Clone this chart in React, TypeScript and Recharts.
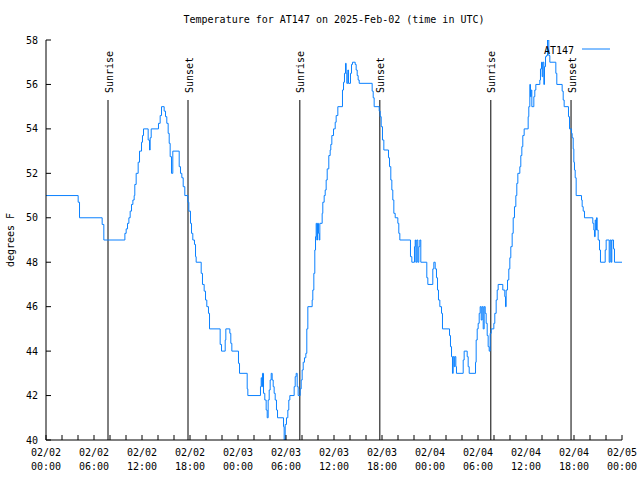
import React from "react";
import {
  LineChart,
  Line,
  XAxis,
  YAxis,
  ReferenceLine,
  Legend,
  Customized,
} from "recharts";

// hours since 02/02 00:00 UTC where the reading changes, and the reading from then on
const changeHours = [
  0, 4.02, 4.19, 7.02, 7.23, 9.86, 10.02, 10.19, 10.36, 10.52, 10.69, 10.86, 11.02, 11.1, 11.27,
  11.52, 11.69, 11.94, 12.06, 12.19, 12.77, 12.94, 13.02, 13.15, 14.06, 14.27, 14.44, 14.77, 14.94,
  15.1, 15.27, 15.4, 15.52, 15.69, 15.85, 16.65, 16.81, 16.98, 17.15, 17.35, 17.73, 17.85, 18.06,
  18.19, 18.35, 18.56, 18.69, 18.77, 19.4, 19.56, 19.77, 19.94, 20.1, 20.31, 20.44, 21.77, 21.94,
  22.4, 22.48, 22.98, 23.1, 23.23, 24.06, 24.19, 25.15, 25.23, 26.81, 26.9, 26.98, 27.06, 27.19,
  27.35, 27.52, 27.65, 27.77, 27.9, 28.02, 28.15, 28.27, 28.4, 28.52, 28.65, 28.81, 28.94, 29.69,
  29.77, 29.9, 30.06, 30.23, 30.35, 30.48, 31.02, 31.15, 31.27, 31.4, 31.52, 31.77, 31.9, 32.02,
  32.15, 32.31, 32.48, 32.6, 32.73, 33.27, 33.35, 33.48, 33.6, 33.69, 33.77, 33.85, 33.94, 34.06,
  34.15, 34.23, 34.52, 34.6, 34.77, 34.9, 35.02, 35.15, 35.35, 35.52, 35.6, 35.73, 35.94, 36.15,
  36.27, 36.48, 37.06, 37.19, 37.31, 37.44, 37.52, 37.6, 37.73, 37.81, 38.06, 38.19, 38.31, 38.65,
  38.77, 38.9, 39.02, 39.15, 40.77, 40.9, 41.02, 41.65, 41.77, 41.9, 42.06, 42.23, 42.81, 42.94,
  43.1, 43.23, 43.35, 43.48, 43.65, 43.98, 44.1, 44.23, 45.56, 45.73, 46.06, 46.15, 46.23, 46.35,
  46.48, 46.6, 46.73, 46.85, 47.6, 47.73, 48.35, 48.48, 48.65, 48.81, 48.94, 49.06, 49.23, 49.44,
  49.56, 50.44, 50.56, 50.69, 50.81, 50.9, 51.02, 51.1, 51.23, 51.31, 52.15, 52.27, 52.65, 52.77,
  52.9, 53.69, 53.77, 53.9, 54.02, 54.15, 54.27, 54.4, 54.52, 54.65, 54.77, 54.9, 55.02, 55.15,
  55.27, 55.4, 55.52, 55.65, 55.98, 56.1, 56.27, 56.4, 56.52, 57.1, 57.35, 57.44, 57.52, 57.69,
  57.85, 57.98, 58.1, 58.27, 58.4, 58.56, 58.73, 58.85, 58.98, 59.23, 59.35, 59.48, 59.6, 59.77,
  60.27, 60.35, 60.48, 60.56, 60.65, 60.73, 60.98, 61.1, 61.23, 61.73, 61.81, 61.94, 62.02, 62.1,
  62.23, 62.31, 62.44, 62.56, 62.69, 62.85, 62.98, 63.73, 63.85, 64.52, 64.65, 64.77, 65.31, 65.44,
  65.69, 65.77, 65.9, 65.98, 66.06, 66.15, 66.27, 66.94, 67.02, 67.15, 67.31, 68.35, 68.48, 68.56,
  68.65, 68.73, 68.81, 68.9, 69.02, 69.19, 69.31, 69.9, 70.02, 70.4, 70.52, 70.65, 70.73, 70.94,
  71.06, 72,
];

const tempsF = [
  51.0, 50.7, 50.0, 49.7, 49.0, 49.3, 49.5, 49.75, 50.0, 50.3, 50.6, 50.8, 51.0, 51.5, 52.0,
  52.5, 53.0, 53.4, 53.7, 54.0, 53.5, 53.05, 53.6, 54.0, 54.25, 54.6, 55.0, 54.8, 54.55,
  54.25, 53.8, 53.35, 52.75, 52.0, 53.0, 52.3, 52.0, 51.8, 51.4, 51.0, 50.7, 50.3, 49.75,
  49.3, 49.0, 48.8, 48.25, 48.0, 47.5, 47.0, 46.7, 46.3, 46.0, 45.7, 45.0, 44.3, 44.0,
  44.5, 45.0, 44.8, 44.35, 44.0, 43.45, 43.0, 42.3, 42.0, 42.4, 42.8, 42.4, 43.0, 42.1,
  41.8, 41.35, 41.0, 41.8, 42.25, 42.7, 43.0, 42.7, 42.4, 42.1, 41.8, 41.35, 41.0, 40.6,
  40.0, 40.7, 41.0, 41.35, 41.8, 42.0, 42.4, 42.85, 43.0, 42.4, 42.0, 42.3, 42.7, 43.15,
  43.5, 43.7, 43.9, 45.0, 46.0, 46.3, 46.75, 47.5, 48.55, 49.15, 49.75, 49.0, 49.75, 49.3,
  49.0, 49.75, 50.2, 50.7, 51.0, 51.25, 51.7, 52.2, 52.8, 53.05, 53.3, 53.7, 54.0, 54.3,
  54.6, 55.0, 55.75, 56.1, 56.5, 56.95, 56.5, 56.05, 56.65, 56.05, 56.5, 56.9, 57.0, 56.9,
  56.65, 56.4, 56.2, 56.05, 55.7, 55.4, 55.0, 54.8, 54.55, 54.1, 53.5, 53.05, 52.7, 52.3,
  51.7, 51.25, 50.8, 50.2, 50.0, 49.75, 49.3, 49.0, 48.25, 48.0, 48.7, 49.0, 48.0, 49.0,
  48.0, 48.7, 49.0, 48.0, 47.3, 47.0, 47.7, 48.0, 47.7, 47.3, 46.75, 46.3, 46.0, 45.7,
  45.0, 44.7, 44.2, 43.75, 43.0, 43.75, 43.3, 43.75, 43.3, 43.0, 43.6, 44.0, 43.75, 43.3,
  43.0, 43.5, 44.5, 45.0, 45.25, 45.7, 46.0, 45.4, 46.0, 45.0, 46.0, 45.7, 45.25, 44.7,
  44.2, 44.0, 44.8, 45.0, 45.25, 45.7, 46.3, 46.75, 47.0, 46.75, 46.45, 46.0, 46.75, 47.2,
  47.7, 48.2, 48.7, 49.3, 50.0, 50.5, 51.0, 51.55, 52.0, 52.3, 52.8, 53.2, 53.7, 54.0,
  54.55, 55.0, 56.0, 55.45, 55.75, 55.0, 55.45, 55.75, 56.0, 56.2, 56.7, 57.0, 56.35, 57.0,
  56.0, 56.8, 57.25, 57.3, 58.0, 57.3, 57.0, 56.5, 56.0, 55.7, 55.3, 55.0, 54.55, 54.0,
  53.8, 53.6, 53.1, 52.5, 52.15, 51.8, 51.0, 50.8, 50.5, 50.3, 50.0, 49.75, 49.45, 49.15,
  49.9, 49.45, 50.0, 49.45, 49.0, 48.55, 48.0, 48.55, 49.0, 48.0, 49.0, 48.0, 49.0, 48.6,
  48.0, 48.0,
];

const sunriseHours = [7.75, 31.73, 55.6];
const sunsetHours = [17.75, 41.73, 65.63];
const sunLineTop = 55.3;

const xTicks = [
  0, 2, 4, 6, 8, 10, 12, 14, 16, 18, 20, 22, 24, 26, 28, 30, 32, 34, 36, 38, 40, 42, 44, 46, 48,
  50, 52, 54, 56, 58, 60, 62, 64, 66, 68, 70, 72,
];
const yTicks = [40, 42, 44, 46, 48, 50, 52, 54, 56, 58];

const data = changeHours.map((h, i) => ({ h, temp: tempsF[i] }));

const FONT = "'DejaVu Sans Mono', monospace";
const BLUE = "#0a80ff";

const pad = (n: number) => (n < 10 ? `0${n}` : `${n}`);

function TimeTick({ x, y, payload }: any) {
  const h = payload.value as number;
  if (h % 6 !== 0) return null;
  const day = 2 + Math.floor(h / 24);
  return (
    <g>
      <text x={x} y={y + 16} textAnchor="middle" fontSize={10} fontFamily={FONT} fill="#000">
        {`02/${pad(day)}`}
      </text>
      <text x={x} y={y + 30} textAnchor="middle" fontSize={10} fontFamily={FONT} fill="#000">
        {`${pad(h % 24)}:00`}
      </text>
    </g>
  );
}

function sunLabel(text: string) {
  return (props: any) => {
    const vb = props.viewBox || {};
    const cx = (vb.x || 0) + (vb.width || 0) / 2;
    const tx = cx + 4.5;
    const ty = (vb.y || 0) - 7;
    return (
      <text
        x={tx}
        y={ty}
        transform={`rotate(-90 ${tx} ${ty})`}
        textAnchor="start"
        fontSize={10}
        fontFamily={FONT}
        fill="#000"
      >
        {text}
      </text>
    );
  };
}

function Decorations() {
  return (
    <g fontFamily={FONT} fontSize={10} fill="#000">
      <text x={334} y={23} textAnchor="middle">
        Temperature for AT147 on 2025-Feb-02 (time in UTC)
      </text>
      <text x={14} y={240} textAnchor="middle" transform="rotate(-90 14 240)">
        degrees F
      </text>
    </g>
  );
}

function LegendBox() {
  return (
    <svg width={80} height={14} style={{ display: "block" }}>
      <text x={34} y={12} textAnchor="end" fontSize={10} fontFamily={FONT} fill="#000">
        AT147
      </text>
      <line x1={42} y1={7} x2={70} y2={7} stroke={BLUE} strokeWidth={1} />
    </svg>
  );
}

export default function App() {
  return (
    <div
      style={{
        position: "absolute",
        left: 0,
        top: 0,
        width: 640,
        height: 480,
        background: "#fff",
        fontFamily: FONT,
      }}
    >
      <LineChart
        width={640}
        height={480}
        data={data}
        margin={{ top: 40, right: 18, bottom: 0, left: 0 }}
      >
        <XAxis
          xAxisId="bottom"
          dataKey="h"
          type="number"
          domain={[0, 72]}
          ticks={xTicks}
          interval={0}
          height={40}
          stroke="#000"
          tickSize={-5}
          tickMargin={5}
          tick={<TimeTick />}
          allowDataOverflow
        />
        <XAxis
          xAxisId="top"
          orientation="top"
          dataKey="h"
          type="number"
          domain={[0, 72]}
          ticks={xTicks}
          interval={0}
          height={0}
          stroke="#000"
          tickSize={-5}
          tick={false}
          allowDataOverflow
        />
        <YAxis
          yAxisId="left"
          domain={[40, 58]}
          ticks={yTicks}
          interval={0}
          width={46}
          stroke="#000"
          tickSize={-5}
          tickMargin={13}
          tick={{ fontSize: 10, fontFamily: FONT, fill: "#000" }}
          allowDataOverflow
        />
        <YAxis
          yAxisId="right"
          orientation="right"
          domain={[40, 58]}
          ticks={yTicks}
          interval={0}
          width={0}
          stroke="#000"
          tickSize={-5}
          tick={false}
          allowDataOverflow
        />
        {sunriseHours.map((h) => (
          <ReferenceLine
            key={`rise-${h}`}
            xAxisId="bottom"
            yAxisId="left"
            segment={[
              { x: h, y: 40 },
              { x: h, y: sunLineTop },
            ]}
            stroke="#000"
            strokeWidth={1}
            label={sunLabel("Sunrise")}
          />
        ))}
        {sunsetHours.map((h) => (
          <ReferenceLine
            key={`set-${h}`}
            xAxisId="bottom"
            yAxisId="left"
            segment={[
              { x: h, y: 40 },
              { x: h, y: sunLineTop },
            ]}
            stroke="#000"
            strokeWidth={1}
            label={sunLabel("Sunset")}
          />
        ))}
        <Line
          xAxisId="bottom"
          yAxisId="left"
          type="stepAfter"
          dataKey="temp"
          name="AT147"
          stroke={BLUE}
          strokeWidth={1}
          dot={false}
          activeDot={false}
          isAnimationActive={false}
        />
        <Legend
          layout="horizontal"
          verticalAlign="middle"
          align="center"
          content={() => <LegendBox />}
          wrapperStyle={{ position: "absolute", left: 540, top: 42, width: 80, height: 14 }}
        />
        <Customized component={Decorations} />
      </LineChart>
    </div>
  );
}
